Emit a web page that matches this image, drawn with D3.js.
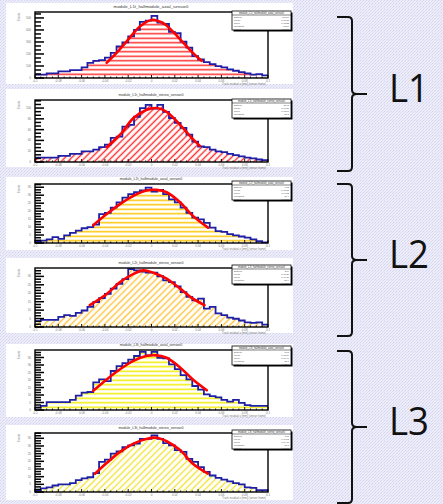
<!doctype html>
<meta charset="utf-8">
<title>Residuals per layer</title>
<style>
body { margin: 0; }
svg { display: block; }
text { font-family: "Liberation Sans", Arial, sans-serif; }
</style>
<script src="https://d3js.org/d3.v7.min.js"></script>
<body>
<script>
var width = 443, height = 504;

// ---- data (values in % of frame height) ----
var titles = [
  "module_L1t_halfmodule_axial_sensor0",
  "module_L1t_halfmodule_stereo_sensor0",
  "module_L2t_halfmodule_axial_sensor0",
  "module_L2t_halfmodule_stereo_sensor0",
  "module_L3t_halfmodule_axial_sensor0",
  "module_L3t_halfmodule_stereo_sensor0"
];
var layers = ["L1", "L2", "L3"];
var xTickLabels = ["-0.1", "-0.08", "-0.06", "-0.04", "-0.02", "0", "0.02", "0.04", "0.06", "0.08", "0.1"];
var yTickLabels = [
  ["0", "100", "200", "300", "400", "500"],
  ["0", "20", "40", "60", "80", "100"],
  ["0", "5", "10", "15", "20", "25", "30", "35"],
  ["0", "5", "10", "15", "20", "25", "30"],
  ["0", "5", "10", "15", "20", "25", "30", "35"],
  ["0", "5", "10", "15", "20", "25", "30", "35"]
];
var statNames = ["Entries", "Mean", "RMS", "Constant", "Sigma"];
var statValues = [
  ["10000", "-0.0008", "0.0382", "472.6", "0.0251"],
  ["1843", "0.0011", "0.0391", "88.2", "0.0262"],
  ["612", "-0.0021", "0.0452", "31.4", "0.0308"],
  ["574", "-0.0035", "0.0471", "27.9", "0.0322"],
  ["598", "0.0006", "0.0440", "32.1", "0.0297"],
  ["603", "0.0012", "0.0445", "31.8", "0.0301"]
];

var hist1 = [5, 5, 7, 7, 10, 10, 12, 12, 16, 23, 26, 27, 31, 38, 48, 54, 63, 73, 85, 87,
             94, 84, 82, 70, 68, 55, 46, 33, 28, 24, 21, 18, 16, 13, 11, 9, 7, 5, 6, 4];
var hist2 = [7, 7, 7, 7, 10, 10, 13, 13, 17, 17, 20, 24, 28, 39, 41, 57, 60, 73, 87, 92,
             86, 92, 81, 71, 63, 55, 44, 33, 25, 24, 20, 17, 16, 13, 11, 9, 7, 6, 4, 3];
var hist3 = [2, 4, 6, 10, 7, 13, 17, 21, 25, 27, 31, 49, 51, 60, 69, 77, 83, 86, 89, 94,
             87, 90, 83, 74, 69, 60, 51, 43, 40, 34, 26, 20, 19, 15, 13, 11, 9, 6, 3, 1];
var hist4 = [10, 12, 12, 12, 17, 20, 19, 24, 28, 34, 42, 49, 56, 65, 73, 81, 98, 96, 94, 92,
             92, 86, 79, 76, 69, 59, 51, 45, 48, 31, 34, 23, 20, 16, 14, 11, 8, 7, 8, 4];
var hist5 = [4, 7, 13, 13, 13, 13, 17, 24, 29, 30, 46, 51, 48, 65, 73, 78, 84, 90, 97, 91,
             97, 87, 86, 76, 68, 58, 51, 40, 34, 26, 23, 21, 17, 14, 17, 12, 8, 7, 7, 7];
var hist6 = [3, 6, 8, 11, 13, 13, 15, 20, 23, 25, 32, 51, 55, 65, 69, 76, 79, 82, 90, 90,
             96, 90, 83, 79, 71, 68, 56, 51, 42, 34, 28, 24, 21, 18, 15, 13, 8, 7, 3, 3];

// gaussian fit curves, points read as [bin, value]
var fit1 = [[12.3, 23], [14, 38], [15.7, 55], [18, 78], [20, 88], [22, 83], [23.7, 70], [25.4, 54], [27.1, 38], [28.6, 26]];
var fit2 = [[12.3, 24], [14.6, 44], [16.9, 71], [19.1, 84], [20.9, 87], [22.6, 81], [24.9, 60], [26.9, 39], [28.3, 26]];
var fit3 = [[10, 30], [12.3, 49], [14.6, 66], [16.9, 80], [19.1, 89], [20.9, 90], [22.6, 86], [24.9, 69], [27.1, 46], [29.7, 26]];
var fit4 = [[9.4, 37], [12.3, 56], [14.6, 76], [16.9, 90], [18.6, 96], [20.3, 92], [22.6, 82], [24.9, 65], [27.1, 48], [29.1, 37]];
var fit5 = [[10, 32], [12.3, 51], [14.6, 68], [16.9, 82], [19.1, 90], [20.9, 91], [22.6, 87], [24.9, 71], [27.1, 51], [29.5, 33]];
var fit6 = [[10.3, 31], [12.3, 49], [14.6, 68], [16.9, 82], [19.1, 90], [20.9, 92], [22.6, 86], [24.9, 71], [27.1, 48], [29.7, 31]];

var hists = [hist1, hist2, hist3, hist4, hist5, hist6];
var fits = [fit1, fit2, fit3, fit4, fit5, fit6];

// ---- layout ----
var panelTops = [3, 89, 177, 258, 344, 425];
var panelBottoms = [84, 167, 250, 333, 417, 500];
var frameTops = [12, 100, 184, 268, 350, 433];
var frameBottoms = [78, 162, 243, 327, 410, 492];
var boxTops = [11, 99, 181, 265, 346, 430];
var yStep = [18.2, 17.4, 13.5, 14.3, 12.5, 13];
var hatchColors = ["#ff2b2b", "#ff2b2b", "#ffc400", "#ffc43c", "#f2ec00", "#f2e43c"];
var hatchDiag = [false, true, false, true, false, true];
var braceTops = [17, 184, 351];
var braceBottoms = [171, 336, 503];
var labelBase = [102, 268, 435];

var svg = d3.select("body").append("svg")
    .attr("width", width)
    .attr("height", height);
var defs = svg.append("defs");

// dotted lavender slide background
var bg = defs.append("pattern").attr("id", "bg")
    .attr("patternUnits", "userSpaceOnUse")
    .attr("width", 3).attr("height", 3);
bg.append("rect").attr("width", 3).attr("height", 3).attr("fill", "#ededfa");
bg.append("rect").attr("width", 1).attr("height", 1).attr("fill", "#d3d3ef");
bg.append("rect").attr("x", 2).attr("y", 1).attr("width", 1).attr("height", 1).attr("fill", "#dadaf2");
bg.append("rect").attr("x", 1).attr("y", 2).attr("width", 1).attr("height", 1).attr("fill", "#dedef4");
svg.append("rect").attr("width", width).attr("height", height).attr("fill", "url(#bg)");

hatchColors.forEach(function(c, i) {
  var s = hatchDiag[i] ? 4.7 : 4.5;
  var p = defs.append("pattern").attr("id", "hatch" + i)
      .attr("patternUnits", "userSpaceOnUse")
      .attr("width", s).attr("height", s);
  if (hatchDiag[i]) {
    p.attr("patternTransform", "rotate(45)");
    p.append("line").attr("x1", s / 2).attr("x2", s / 2).attr("y1", 0).attr("y2", s)
      .attr("stroke", c).attr("stroke-width", 1.4);
  } else {
    p.append("line").attr("x1", 0).attr("x2", s).attr("y1", s / 2).attr("y2", s / 2)
      .attr("stroke", c).attr("stroke-width", 1.5);
  }
});

var x = d3.scaleLinear().domain([0, 40]).range([35, 268]);

hists.forEach(function(h, i) {
  var g = svg.append("g");
  var y = d3.scaleLinear().domain([0, 100]).range([frameBottoms[i], frameTops[i]]);

  g.append("rect")
    .attr("x", 6).attr("y", panelTops[i])
    .attr("width", 287).attr("height", panelBottoms[i] - panelTops[i])
    .attr("fill", "#fff");

  // title
  g.append("text")
    .attr("x", 151).attr("y", frameTops[i] - 4.5)
    .attr("text-anchor", "middle")
    .style("font-size", i == 0 ? "4.3px" : "3.6px")
    .attr("fill", "#333")
    .text(titles[i]);

  var pts = h.map(function(v, k) { return [k, v]; });
  pts.push([40, h[39]]);

  g.append("path")
    .attr("d", d3.area().curve(d3.curveStepAfter)
      .x(function(d) { return x(d[0]); })
      .y0(y(0))
      .y1(function(d) { return y(d[1]); })(pts))
    .attr("fill", "url(#hatch" + i + ")");

  g.append("path")
    .attr("d", d3.line().curve(d3.curveStepAfter)
      .x(function(d) { return x(d[0]); })
      .y(function(d) { return y(d[1]); })(pts))
    .attr("fill", "none")
    .attr("stroke", "#1f1fa6")
    .attr("stroke-width", 1.8);

  g.append("path")
    .attr("d", d3.line().curve(d3.curveCatmullRom)
      .x(function(d) { return x(d[0]); })
      .y(function(d) { return y(d[1]); })(fits[i]))
    .attr("fill", "none")
    .attr("stroke", "#ff0000")
    .attr("stroke-width", 2.6)
    .attr("stroke-linecap", "round");

  // y ticks: ROOT style, inside the frame
  var minor = d3.range(0, 100, yStep[i] / 3);
  g.selectAll("line.ymin").data(minor).enter().append("line")
    .attr("x1", 35).attr("x2", function(d, k) { return k % 3 == 0 ? 44 : 41; })
    .attr("y1", function(d) { return y(d); }).attr("y2", function(d) { return y(d); })
    .attr("stroke", "#000").attr("stroke-width", 1.5);
  g.selectAll("text.ylab").data(yTickLabels[i]).enter().append("text")
    .attr("x", 31).attr("y", function(d, k) { return y(k * yStep[i]) + 1; })
    .attr("text-anchor", "end")
    .style("font-size", "3px")
    .attr("fill", "#777")
    .text(function(d) { return d; });
  g.append("text")
    .attr("transform", "translate(20," + (frameTops[i] + 1) + ") rotate(-90)")
    .attr("text-anchor", "end")
    .style("font-size", "2.6px")
    .attr("fill", "#777")
    .text("Events");

  // x ticks
  g.selectAll("line.xt").data(d3.range(0, 41)).enter().append("line")
    .attr("x1", function(d) { return x(d); }).attr("x2", function(d) { return x(d); })
    .attr("y1", frameBottoms[i])
    .attr("y2", function(d) { return d % 4 == 0 ? frameBottoms[i] - 3 : frameBottoms[i] - 1.5; })
    .attr("stroke", "#000").attr("stroke-width", 0.9);
  g.selectAll("text.xlab").data(xTickLabels).enter().append("text")
    .attr("x", function(d, k) { return x(k * 4); })
    .attr("y", frameBottoms[i] + 4)
    .attr("text-anchor", "middle")
    .style("font-size", "3px")
    .attr("fill", "#777")
    .text(function(d) { return d; });
  g.append("text")
    .attr("x", 266).attr("y", frameBottoms[i] + 6.5)
    .attr("text-anchor", "end")
    .style("font-size", "2.7px")
    .attr("fill", "#777")
    .text("Track residual u [mm] (sensor frame)");

  g.append("rect")
    .attr("x", 35).attr("y", frameTops[i])
    .attr("width", 233).attr("height", frameBottoms[i] - frameTops[i])
    .attr("fill", "none")
    .attr("stroke", "#000")
    .attr("stroke-width", 1.4);

  // stats box
  var bt = boxTops[i], bh = 19;
  g.append("rect")
    .attr("x", 233.5).attr("y", bt + 1.5).attr("width", 59).attr("height", bh)
    .attr("fill", "#000");
  g.append("rect")
    .attr("x", 232).attr("y", bt).attr("width", 59).attr("height", bh)
    .attr("fill", "#fff").attr("stroke", "#000").attr("stroke-width", 0.8);
  g.append("text")
    .attr("x", 261.5).attr("y", bt + 3)
    .attr("text-anchor", "middle")
    .style("font-size", "2.6px")
    .attr("fill", "#333")
    .text(titles[i]);
  g.append("line")
    .attr("x1", 232).attr("x2", 291).attr("y1", bt + 4).attr("y2", bt + 4)
    .attr("stroke", "#000").attr("stroke-width", 0.5);
  statNames.forEach(function(n, k) {
    g.append("text").attr("x", 234).attr("y", bt + 7 + k * 2.9)
      .style("font-size", "2.5px").attr("fill", "#555").text(n);
    g.append("text").attr("x", 289).attr("y", bt + 7 + k * 2.9)
      .attr("text-anchor", "end")
      .style("font-size", "2.5px").attr("fill", "#555").text(statValues[i][k]);
  });
});

// braces and layer labels
layers.forEach(function(l, i) {
  var t = braceTops[i], b = braceBottoms[i], m = (t + b) / 2;
  var p = d3.path();
  p.moveTo(337, t);
  p.lineTo(348, t);
  p.quadraticCurveTo(352, t, 352, t + 4);
  p.lineTo(352, m - 4);
  p.quadraticCurveTo(352, m, 357, m);
  p.lineTo(367, m);
  p.moveTo(357, m);
  p.quadraticCurveTo(352, m, 352, m + 4);
  p.lineTo(352, b - 4);
  p.quadraticCurveTo(352, b, 348, b);
  p.lineTo(337, b);
  svg.append("path")
    .attr("d", p.toString())
    .attr("fill", "none")
    .attr("stroke", "#111")
    .attr("stroke-width", 2);
  svg.append("text")
    .attr("x", 389).attr("y", labelBase[i])
    .attr("textLength", 40)
    .attr("lengthAdjust", "spacingAndGlyphs")
    .style("font-size", "39px")
    .style("font-family", "'Open Sans', sans-serif")
    .attr("fill", "#111")
    .text(l);
});
</script>
